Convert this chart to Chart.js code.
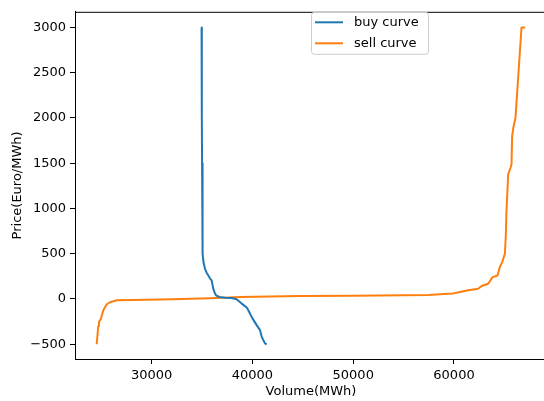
<!DOCTYPE html>
<html>
<head>
<meta charset="utf-8">
<title>Buy and sell curves</title>
<script src="https://cdn.jsdelivr.net/npm/chart.js@4.4.1/dist/chart.umd.min.js"></script>
<style>
  html, body { margin: 0; padding: 0; overflow: hidden; background: #ffffff; }
  canvas { display: block; }
</style>
</head>
<body>
<canvas id="curves" width="548" height="401"></canvas>
<script>
// Aggregated bid curves: volume (MWh) against price (Euro/MWh)
const buyVolume = [34950, 34965, 34985, 35000, 35030, 35060, 35060, 35150, 35290, 35450, 35620,
  35800, 35950, 36050, 36110, 36250, 36380, 36710, 37300, 37940, 38430, 38930, 39430, 39590,
  39920, 40200, 40420, 40750, 40920, 41240, 41410];
const buyPrice = [3000, 2500, 2000, 1500, 1000, 868, 500, 400, 334, 290, 260,
  225, 205, 150, 114, 70, 41, 22, 15, 11, -3, -51, -95, -124,
  -198, -250, -289, -344, -418, -490, -500];

const sellVolume = [24540, 24700, 24770, 24940, 25200, 25540, 25870, 26530, 28000, 30800, 33000,
  35800, 38760, 44710, 50000, 55000, 57500, 59000, 59920, 60500, 61410, 62400, 62740, 63390,
  63830, 64320, 64550, 64780, 65050, 65150, 65200, 65380, 65610, 65710, 65770, 65900, 66100,
  66150, 66700, 67060];
const sellPrice = [-500, -300, -253, -226, -124, -58, -36, -14, -12, -5, 0,
  8, 22, 33, 37, 40, 45, 55, 62, 75, 96, 114, 143, 169,
  242, 260, 352, 407, 499, 719, 950, 1380, 1450, 1490, 1800, 1900, 2000,
  2000, 3000, 3000];

const volumeTicks = [30000, 40000, 50000, 60000];
const priceTicks = [-500, 0, 500, 1000, 1500, 2000, 2500, 3000];

const seriesLabels = ['buy curve', 'sell curve'];
const seriesColors = ['#1f77b4', '#ff7f0e'];

const toPoints = (xs, ys) => xs.map((x, i) => ({ x: x, y: ys[i] }));
const fmt = v => (v < 0 ? '\u2212' + Math.abs(v) : String(v));

const FONT = 'DejaVu Sans';
const TEXT_SIZE = 13;

// frame on the top and right of the plot area
const frame = {
  id: 'frame',
  afterDatasetsDraw(chart) {
    const { ctx, chartArea: a } = chart;
    ctx.save();
    ctx.strokeStyle = '#000000';
    ctx.lineWidth = 1;
    ctx.beginPath();
    ctx.moveTo(a.left, a.top + 0.5);
    ctx.lineTo(a.right, a.top + 0.5);
    ctx.moveTo(a.right - 0.5, a.top);
    ctx.lineTo(a.right - 0.5, a.bottom);
    ctx.stroke();
    ctx.restore();
  }
};

// boxed legend placed inside the top of the plot area
const boxLegend = {
  id: 'boxLegend',
  afterDraw(chart) {
    const { ctx, chartArea: a } = chart;
    const x = a.left + 236, y = a.top + 0.5, w = 117, h = 42;
    ctx.save();
    ctx.beginPath();
    ctx.roundRect(x + 0.5, y, w, h, 3);
    ctx.fillStyle = 'rgba(255,255,255,0.85)';
    ctx.fill();
    ctx.strokeStyle = '#cccccc';
    ctx.lineWidth = 1;
    ctx.stroke();
    ctx.font = TEXT_SIZE + 'px "' + FONT + '"';
    ctx.textBaseline = 'middle';
    ctx.textAlign = 'left';
    chart.data.datasets.forEach((ds, i) => {
      const ly = y + 10 + i * 21;
      ctx.strokeStyle = ds.borderColor;
      ctx.lineWidth = 2;
      ctx.beginPath();
      ctx.moveTo(x + 4, ly);
      ctx.lineTo(x + 32, ly);
      ctx.stroke();
      ctx.fillStyle = '#000000';
      ctx.fillText(ds.label, x + 43, ly);
    });
    ctx.restore();
  }
};

new Chart(document.getElementById('curves'), {
  type: 'scatter',
  data: {
    datasets: [
      {
        label: seriesLabels[0],
        data: toPoints(buyVolume, buyPrice),
        showLine: true,
        borderColor: seriesColors[0],
        backgroundColor: seriesColors[0],
        borderWidth: 2,
        pointRadius: 0,
        pointHoverRadius: 0,
        tension: 0,
        borderJoinStyle: 'round'
      },
      {
        label: seriesLabels[1],
        data: toPoints(sellVolume, sellPrice),
        showLine: true,
        borderColor: seriesColors[1],
        backgroundColor: seriesColors[1],
        borderWidth: 2,
        pointRadius: 0,
        pointHoverRadius: 0,
        tension: 0,
        borderJoinStyle: 'round'
      }
    ]
  },
  options: {
    responsive: false,
    animation: false,
    devicePixelRatio: 1,
    layout: { padding: { top: 9, right: 1, bottom: 0, left: 0 } },
    plugins: {
      legend: { display: false },
      tooltip: { enabled: false }
    },
    scales: {
      x: {
        type: 'linear',
        min: 22390,
        max: 69230,
        afterBuildTicks: s => { s.ticks = volumeTicks.map(v => ({ value: v })); },
        afterFit: s => { s.height = 42; },
        ticks: {
          color: '#000000',
          font: { family: FONT, size: TEXT_SIZE },
          padding: 4,
          maxRotation: 0,
          callback: v => fmt(v)
        },
        grid: {
          drawOnChartArea: false,
          drawTicks: true,
          tickLength: 5,
          tickColor: '#000000',
          tickWidth: 1
        },
        border: { display: true, color: '#000000', width: 1 },
        title: {
          display: true,
          text: 'Volume(MWh)',
          color: '#000000',
          font: { family: FONT, size: TEXT_SIZE },
          padding: { top: 0, bottom: 1.5 }
        }
      },
      y: {
        type: 'linear',
        min: -663,
        max: 3173,
        afterBuildTicks: s => { s.ticks = priceTicks.map(v => ({ value: v })); },
        afterFit: s => { s.width = 75; },
        ticks: {
          color: '#000000',
          font: { family: FONT, size: TEXT_SIZE },
          padding: 4,
          callback: v => fmt(v)
        },
        grid: {
          drawOnChartArea: false,
          drawTicks: true,
          tickLength: 5,
          tickColor: '#000000',
          tickWidth: 1
        },
        border: { display: true, color: '#000000', width: 1 },
        title: {
          display: true,
          text: 'Price(Euro/MWh)',
          color: '#000000',
          font: { family: FONT, size: TEXT_SIZE },
          padding: { top: 10, bottom: 0 }
        }
      }
    }
  },
  plugins: [frame, boxLegend]
});
</script>
</body>
</html>
